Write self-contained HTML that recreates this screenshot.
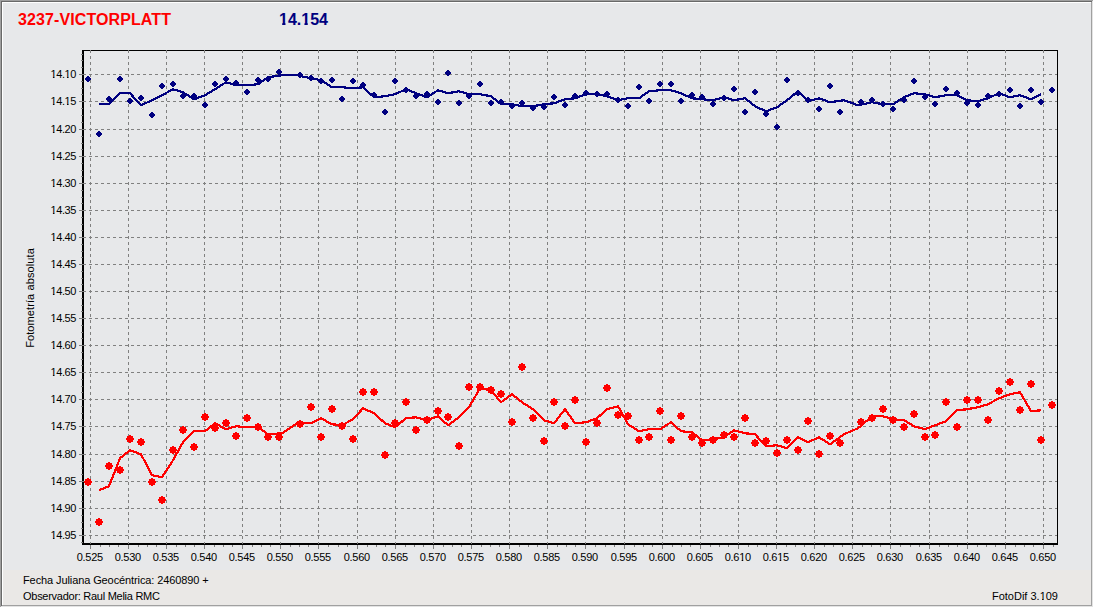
<!DOCTYPE html>
<html><head><meta charset="utf-8"><title>FotoDif</title>
<style>
html,body{margin:0;padding:0;background:#fff;}
body{width:1094px;height:608px;overflow:hidden;position:relative;font-family:"Liberation Sans",sans-serif;font-size:11px;color:#000;line-height:14px;}
svg{position:absolute;left:0;top:0;display:block;}
.t{position:absolute;white-space:nowrap;}
.xl{position:absolute;top:550px;letter-spacing:-0.25px;width:41px;text-align:center;white-space:nowrap;}
.yl{position:absolute;letter-spacing:-0.4px;left:36px;width:40px;text-align:right;white-space:nowrap;}
.o2{display:inline-block;clip-path:polygon(0 0,100% 0,100% 10px,4.1px 10px,4.1px 100%,2.4px 100%,2.4px 10px,0 10px);}
.o1{display:inline-block;clip-path:polygon(0 0,100% 0,100% 12.3px,6.5px 12.3px,6.5px 100%,3.2px 100%,3.2px 12.3px,0 12.3px);}
.h1{font-weight:bold;font-size:16px;line-height:18px;letter-spacing:0.1px;}
</style></head><body>
<svg width="1094" height="608" viewBox="0 0 1094 608" shape-rendering="crispEdges"><rect x="0" y="0" width="1094" height="608" fill="#ffffff"/><rect x="0" y="0" width="1093" height="607" fill="#a0a0a0"/><rect x="1" y="1" width="1092" height="606" fill="#e3e3e3"/><rect x="1" y="1" width="1091" height="605" fill="#696969"/><rect x="2" y="2" width="1090" height="604" fill="#a0a0a0"/><rect x="2" y="2" width="1089" height="603" fill="#ffffff"/><rect x="3" y="3" width="1088" height="567" fill="#e7e8ea"/><rect x="3" y="570" width="1088" height="35" fill="#eae8e6"/><g fill="#000"><rect x="82" y="50" width="2" height="495"/><rect x="82" y="543" width="976" height="2"/><rect x="82" y="50" width="976" height="1"/><rect x="1057" y="50" width="1" height="495"/></g><path d="M90.5,50V544M128.5,50V544M166.5,50V544M204.5,50V544M242.5,50V544M280.5,50V544M318.5,50V544M357.5,50V544M395.5,50V544M433.5,50V544M471.5,50V544M509.5,50V544M547.5,50V544M585.5,50V544M624.5,50V544M662.5,50V544M700.5,50V544M738.5,50V544M776.5,50V544M814.5,50V544M852.5,50V544M890.5,50V544M929.5,50V544M967.5,50V544M1005.5,50V544M1043.5,50V544" stroke="#808080" stroke-width="1" stroke-dasharray="3,3" fill="none"/><path d="M83,74.5H1057M83,101.5H1057M83,129.5H1057M83,156.5H1057M83,183.5H1057M83,210.5H1057M83,237.5H1057M83,264.5H1057M83,291.5H1057M83,318.5H1057M83,345.5H1057M83,372.5H1057M83,399.5H1057M83,426.5H1057M83,454.5H1057M83,481.5H1057M83,508.5H1057M83,535.5H1057" stroke="#808080" stroke-width="1" stroke-dasharray="3,3" fill="none"/><g fill="#808080"><rect x="90" y="545" width="1" height="4"/><rect x="128" y="545" width="1" height="4"/><rect x="166" y="545" width="1" height="4"/><rect x="204" y="545" width="1" height="4"/><rect x="242" y="545" width="1" height="4"/><rect x="280" y="545" width="1" height="4"/><rect x="318" y="545" width="1" height="4"/><rect x="357" y="545" width="1" height="4"/><rect x="395" y="545" width="1" height="4"/><rect x="433" y="545" width="1" height="4"/><rect x="471" y="545" width="1" height="4"/><rect x="509" y="545" width="1" height="4"/><rect x="547" y="545" width="1" height="4"/><rect x="585" y="545" width="1" height="4"/><rect x="624" y="545" width="1" height="4"/><rect x="662" y="545" width="1" height="4"/><rect x="700" y="545" width="1" height="4"/><rect x="738" y="545" width="1" height="4"/><rect x="776" y="545" width="1" height="4"/><rect x="814" y="545" width="1" height="4"/><rect x="852" y="545" width="1" height="4"/><rect x="890" y="545" width="1" height="4"/><rect x="929" y="545" width="1" height="4"/><rect x="967" y="545" width="1" height="4"/><rect x="1005" y="545" width="1" height="4"/><rect x="1043" y="545" width="1" height="4"/><rect x="100" y="545" width="1" height="2"/><rect x="109" y="545" width="1" height="2"/><rect x="118" y="545" width="1" height="2"/><rect x="138" y="545" width="1" height="2"/><rect x="147" y="545" width="1" height="2"/><rect x="156" y="545" width="1" height="2"/><rect x="176" y="545" width="1" height="2"/><rect x="185" y="545" width="1" height="2"/><rect x="194" y="545" width="1" height="2"/><rect x="214" y="545" width="1" height="2"/><rect x="223" y="545" width="1" height="2"/><rect x="232" y="545" width="1" height="2"/><rect x="252" y="545" width="1" height="2"/><rect x="261" y="545" width="1" height="2"/><rect x="270" y="545" width="1" height="2"/><rect x="290" y="545" width="1" height="2"/><rect x="299" y="545" width="1" height="2"/><rect x="308" y="545" width="1" height="2"/><rect x="328" y="545" width="1" height="2"/><rect x="338" y="545" width="1" height="2"/><rect x="347" y="545" width="1" height="2"/><rect x="367" y="545" width="1" height="2"/><rect x="376" y="545" width="1" height="2"/><rect x="385" y="545" width="1" height="2"/><rect x="405" y="545" width="1" height="2"/><rect x="414" y="545" width="1" height="2"/><rect x="423" y="545" width="1" height="2"/><rect x="443" y="545" width="1" height="2"/><rect x="452" y="545" width="1" height="2"/><rect x="461" y="545" width="1" height="2"/><rect x="481" y="545" width="1" height="2"/><rect x="490" y="545" width="1" height="2"/><rect x="499" y="545" width="1" height="2"/><rect x="519" y="545" width="1" height="2"/><rect x="528" y="545" width="1" height="2"/><rect x="537" y="545" width="1" height="2"/><rect x="557" y="545" width="1" height="2"/><rect x="566" y="545" width="1" height="2"/><rect x="575" y="545" width="1" height="2"/><rect x="595" y="545" width="1" height="2"/><rect x="605" y="545" width="1" height="2"/><rect x="614" y="545" width="1" height="2"/><rect x="634" y="545" width="1" height="2"/><rect x="643" y="545" width="1" height="2"/><rect x="652" y="545" width="1" height="2"/><rect x="672" y="545" width="1" height="2"/><rect x="681" y="545" width="1" height="2"/><rect x="690" y="545" width="1" height="2"/><rect x="710" y="545" width="1" height="2"/><rect x="719" y="545" width="1" height="2"/><rect x="728" y="545" width="1" height="2"/><rect x="748" y="545" width="1" height="2"/><rect x="757" y="545" width="1" height="2"/><rect x="766" y="545" width="1" height="2"/><rect x="786" y="545" width="1" height="2"/><rect x="795" y="545" width="1" height="2"/><rect x="804" y="545" width="1" height="2"/><rect x="824" y="545" width="1" height="2"/><rect x="833" y="545" width="1" height="2"/><rect x="842" y="545" width="1" height="2"/><rect x="862" y="545" width="1" height="2"/><rect x="871" y="545" width="1" height="2"/><rect x="880" y="545" width="1" height="2"/><rect x="900" y="545" width="1" height="2"/><rect x="910" y="545" width="1" height="2"/><rect x="919" y="545" width="1" height="2"/><rect x="939" y="545" width="1" height="2"/><rect x="948" y="545" width="1" height="2"/><rect x="957" y="545" width="1" height="2"/><rect x="977" y="545" width="1" height="2"/><rect x="986" y="545" width="1" height="2"/><rect x="995" y="545" width="1" height="2"/><rect x="1015" y="545" width="1" height="2"/><rect x="1024" y="545" width="1" height="2"/><rect x="1033" y="545" width="1" height="2"/><rect x="1053" y="545" width="1" height="2"/><rect x="79" y="74" width="4" height="1"/><rect x="79" y="101" width="4" height="1"/><rect x="79" y="129" width="4" height="1"/><rect x="79" y="156" width="4" height="1"/><rect x="79" y="183" width="4" height="1"/><rect x="79" y="210" width="4" height="1"/><rect x="79" y="237" width="4" height="1"/><rect x="79" y="264" width="4" height="1"/><rect x="79" y="291" width="4" height="1"/><rect x="79" y="318" width="4" height="1"/><rect x="79" y="345" width="4" height="1"/><rect x="79" y="372" width="4" height="1"/><rect x="79" y="399" width="4" height="1"/><rect x="79" y="426" width="4" height="1"/><rect x="79" y="454" width="4" height="1"/><rect x="79" y="481" width="4" height="1"/><rect x="79" y="508" width="4" height="1"/><rect x="79" y="535" width="4" height="1"/><rect x="81" y="81" width="2" height="1"/><rect x="81" y="88" width="2" height="1"/><rect x="81" y="94" width="2" height="1"/><rect x="81" y="108" width="2" height="1"/><rect x="81" y="115" width="2" height="1"/><rect x="81" y="122" width="2" height="1"/><rect x="81" y="136" width="2" height="1"/><rect x="81" y="143" width="2" height="1"/><rect x="81" y="149" width="2" height="1"/><rect x="81" y="163" width="2" height="1"/><rect x="81" y="170" width="2" height="1"/><rect x="81" y="176" width="2" height="1"/><rect x="81" y="190" width="2" height="1"/><rect x="81" y="197" width="2" height="1"/><rect x="81" y="203" width="2" height="1"/><rect x="81" y="217" width="2" height="1"/><rect x="81" y="224" width="2" height="1"/><rect x="81" y="230" width="2" height="1"/><rect x="81" y="244" width="2" height="1"/><rect x="81" y="251" width="2" height="1"/><rect x="81" y="257" width="2" height="1"/><rect x="81" y="271" width="2" height="1"/><rect x="81" y="278" width="2" height="1"/><rect x="81" y="284" width="2" height="1"/><rect x="81" y="298" width="2" height="1"/><rect x="81" y="305" width="2" height="1"/><rect x="81" y="311" width="2" height="1"/><rect x="81" y="325" width="2" height="1"/><rect x="81" y="332" width="2" height="1"/><rect x="81" y="338" width="2" height="1"/><rect x="81" y="352" width="2" height="1"/><rect x="81" y="359" width="2" height="1"/><rect x="81" y="365" width="2" height="1"/><rect x="81" y="379" width="2" height="1"/><rect x="81" y="386" width="2" height="1"/><rect x="81" y="392" width="2" height="1"/><rect x="81" y="406" width="2" height="1"/><rect x="81" y="413" width="2" height="1"/><rect x="81" y="419" width="2" height="1"/><rect x="81" y="433" width="2" height="1"/><rect x="81" y="440" width="2" height="1"/><rect x="81" y="447" width="2" height="1"/><rect x="81" y="461" width="2" height="1"/><rect x="81" y="468" width="2" height="1"/><rect x="81" y="474" width="2" height="1"/><rect x="81" y="488" width="2" height="1"/><rect x="81" y="495" width="2" height="1"/><rect x="81" y="501" width="2" height="1"/><rect x="81" y="515" width="2" height="1"/><rect x="81" y="522" width="2" height="1"/><rect x="81" y="528" width="2" height="1"/><rect x="81" y="67" width="2" height="1"/><rect x="81" y="60" width="2" height="1"/><rect x="81" y="54" width="2" height="1"/><rect x="81" y="542" width="2" height="1"/></g><polyline points="99,490 109,486 120,458 130,450 141,454 152,475 162,477 173,460 183,442 194,431 205,431 215,423 226,429 236,426 247,427 258,427 268,434 282,433 297,423 311,423 321,418 332,424 342,425 353,419 363,408 374,413 385,423 395,427 406,418 416,417 427,420 438,416 448,425 459,417 469,407 480,388 491,390 501,402 512,394 522,402 533,409 544,420 554,423 565,409 575,423 586,422 597,418 607,409 618,406 628,424 639,431 649,429 660,429 671,422 681,431 692,432 702,440 713,439 724,437 734,430 745,433 755,434 766,446 777,445 787,448 798,437 808,442 819,437 830,444 844,434 858,428 872,416 883,416 893,419 904,420 914,426 925,429 935,425 946,421 957,410 967,409 978,407 988,404 999,398 1010,394 1020,392 1031,411 1041,410" fill="none" stroke="#ff0000" stroke-width="2.2" stroke-linejoin="round" transform="translate(0,0.25)"/><polyline points="99,104 109,104 120,93 130,93 141,105 152,100 162,95 173,89 183,92 194,99 205,95 215,89 226,82 236,85 247,85 258,84 268,77 282,75 297,75 311,78 321,80 332,87 342,87 353,88 363,87 374,97 385,96 395,94 406,89 416,93 427,97 438,90 448,93 459,91 469,94 480,94 491,96 501,104 512,104 522,106 533,106 544,104 554,103 565,99 575,98 586,94 597,94 607,96 618,100 628,98 639,98 649,91 660,90 671,90 681,93 692,98 702,99 713,100 724,97 734,100 745,98 755,106 766,111 777,107 787,100 798,91 808,101 819,98 830,102 844,100 858,105 872,102 883,104 893,104 904,97 914,93 925,94 935,97 946,95 957,95 967,100 978,101 988,98 999,93 1010,97 1020,95 1031,99 1041,94" fill="none" stroke="#000080" stroke-width="2.2" stroke-linejoin="round" transform="translate(0,0.25)"/><path fill="#ff0000" d="M87,478h2v1h2v2h1v2h-1v2h-2v1h-2v-1h-2v-2h-1v-2h1v-2h2zM98,518h2v1h2v2h1v2h-1v2h-2v1h-2v-1h-2v-2h-1v-2h1v-2h2zM108,462h2v1h2v2h1v2h-1v2h-2v1h-2v-1h-2v-2h-1v-2h1v-2h2zM119,466h2v1h2v2h1v2h-1v2h-2v1h-2v-1h-2v-2h-1v-2h1v-2h2zM129,435h2v1h2v2h1v2h-1v2h-2v1h-2v-1h-2v-2h-1v-2h1v-2h2zM140,438h2v1h2v2h1v2h-1v2h-2v1h-2v-1h-2v-2h-1v-2h1v-2h2zM151,478h2v1h2v2h1v2h-1v2h-2v1h-2v-1h-2v-2h-1v-2h1v-2h2zM161,496h2v1h2v2h1v2h-1v2h-2v1h-2v-1h-2v-2h-1v-2h1v-2h2zM172,446h2v1h2v2h1v2h-1v2h-2v1h-2v-1h-2v-2h-1v-2h1v-2h2zM182,426h2v1h2v2h1v2h-1v2h-2v1h-2v-1h-2v-2h-1v-2h1v-2h2zM193,443h2v1h2v2h1v2h-1v2h-2v1h-2v-1h-2v-2h-1v-2h1v-2h2zM204,413h2v1h2v2h1v2h-1v2h-2v1h-2v-1h-2v-2h-1v-2h1v-2h2zM214,424h2v1h2v2h1v2h-1v2h-2v1h-2v-1h-2v-2h-1v-2h1v-2h2zM225,419h2v1h2v2h1v2h-1v2h-2v1h-2v-1h-2v-2h-1v-2h1v-2h2zM235,432h2v1h2v2h1v2h-1v2h-2v1h-2v-1h-2v-2h-1v-2h1v-2h2zM246,414h2v1h2v2h1v2h-1v2h-2v1h-2v-1h-2v-2h-1v-2h1v-2h2zM257,423h2v1h2v2h1v2h-1v2h-2v1h-2v-1h-2v-2h-1v-2h1v-2h2zM267,433h2v1h2v2h1v2h-1v2h-2v1h-2v-1h-2v-2h-1v-2h1v-2h2zM278,433h2v1h2v2h1v2h-1v2h-2v1h-2v-1h-2v-2h-1v-2h1v-2h2zM299,420h2v1h2v2h1v2h-1v2h-2v1h-2v-1h-2v-2h-1v-2h1v-2h2zM310,403h2v1h2v2h1v2h-1v2h-2v1h-2v-1h-2v-2h-1v-2h1v-2h2zM320,433h2v1h2v2h1v2h-1v2h-2v1h-2v-1h-2v-2h-1v-2h1v-2h2zM331,405h2v1h2v2h1v2h-1v2h-2v1h-2v-1h-2v-2h-1v-2h1v-2h2zM341,422h2v1h2v2h1v2h-1v2h-2v1h-2v-1h-2v-2h-1v-2h1v-2h2zM352,435h2v1h2v2h1v2h-1v2h-2v1h-2v-1h-2v-2h-1v-2h1v-2h2zM362,388h2v1h2v2h1v2h-1v2h-2v1h-2v-1h-2v-2h-1v-2h1v-2h2zM373,388h2v1h2v2h1v2h-1v2h-2v1h-2v-1h-2v-2h-1v-2h1v-2h2zM384,451h2v1h2v2h1v2h-1v2h-2v1h-2v-1h-2v-2h-1v-2h1v-2h2zM394,419h2v1h2v2h1v2h-1v2h-2v1h-2v-1h-2v-2h-1v-2h1v-2h2zM405,398h2v1h2v2h1v2h-1v2h-2v1h-2v-1h-2v-2h-1v-2h1v-2h2zM415,426h2v1h2v2h1v2h-1v2h-2v1h-2v-1h-2v-2h-1v-2h1v-2h2zM426,416h2v1h2v2h1v2h-1v2h-2v1h-2v-1h-2v-2h-1v-2h1v-2h2zM437,407h2v1h2v2h1v2h-1v2h-2v1h-2v-1h-2v-2h-1v-2h1v-2h2zM447,413h2v1h2v2h1v2h-1v2h-2v1h-2v-1h-2v-2h-1v-2h1v-2h2zM458,442h2v1h2v2h1v2h-1v2h-2v1h-2v-1h-2v-2h-1v-2h1v-2h2zM468,383h2v1h2v2h1v2h-1v2h-2v1h-2v-1h-2v-2h-1v-2h1v-2h2zM479,383h2v1h2v2h1v2h-1v2h-2v1h-2v-1h-2v-2h-1v-2h1v-2h2zM490,386h2v1h2v2h1v2h-1v2h-2v1h-2v-1h-2v-2h-1v-2h1v-2h2zM500,390h2v1h2v2h1v2h-1v2h-2v1h-2v-1h-2v-2h-1v-2h1v-2h2zM511,418h2v1h2v2h1v2h-1v2h-2v1h-2v-1h-2v-2h-1v-2h1v-2h2zM521,363h2v1h2v2h1v2h-1v2h-2v1h-2v-1h-2v-2h-1v-2h1v-2h2zM532,414h2v1h2v2h1v2h-1v2h-2v1h-2v-1h-2v-2h-1v-2h1v-2h2zM543,437h2v1h2v2h1v2h-1v2h-2v1h-2v-1h-2v-2h-1v-2h1v-2h2zM553,398h2v1h2v2h1v2h-1v2h-2v1h-2v-1h-2v-2h-1v-2h1v-2h2zM564,422h2v1h2v2h1v2h-1v2h-2v1h-2v-1h-2v-2h-1v-2h1v-2h2zM574,396h2v1h2v2h1v2h-1v2h-2v1h-2v-1h-2v-2h-1v-2h1v-2h2zM585,438h2v1h2v2h1v2h-1v2h-2v1h-2v-1h-2v-2h-1v-2h1v-2h2zM596,419h2v1h2v2h1v2h-1v2h-2v1h-2v-1h-2v-2h-1v-2h1v-2h2zM606,384h2v1h2v2h1v2h-1v2h-2v1h-2v-1h-2v-2h-1v-2h1v-2h2zM617,411h2v1h2v2h1v2h-1v2h-2v1h-2v-1h-2v-2h-1v-2h1v-2h2zM627,412h2v1h2v2h1v2h-1v2h-2v1h-2v-1h-2v-2h-1v-2h1v-2h2zM638,436h2v1h2v2h1v2h-1v2h-2v1h-2v-1h-2v-2h-1v-2h1v-2h2zM648,433h2v1h2v2h1v2h-1v2h-2v1h-2v-1h-2v-2h-1v-2h1v-2h2zM659,407h2v1h2v2h1v2h-1v2h-2v1h-2v-1h-2v-2h-1v-2h1v-2h2zM670,436h2v1h2v2h1v2h-1v2h-2v1h-2v-1h-2v-2h-1v-2h1v-2h2zM680,412h2v1h2v2h1v2h-1v2h-2v1h-2v-1h-2v-2h-1v-2h1v-2h2zM691,433h2v1h2v2h1v2h-1v2h-2v1h-2v-1h-2v-2h-1v-2h1v-2h2zM701,439h2v1h2v2h1v2h-1v2h-2v1h-2v-1h-2v-2h-1v-2h1v-2h2zM712,436h2v1h2v2h1v2h-1v2h-2v1h-2v-1h-2v-2h-1v-2h1v-2h2zM723,431h2v1h2v2h1v2h-1v2h-2v1h-2v-1h-2v-2h-1v-2h1v-2h2zM733,433h2v1h2v2h1v2h-1v2h-2v1h-2v-1h-2v-2h-1v-2h1v-2h2zM744,414h2v1h2v2h1v2h-1v2h-2v1h-2v-1h-2v-2h-1v-2h1v-2h2zM754,439h2v1h2v2h1v2h-1v2h-2v1h-2v-1h-2v-2h-1v-2h1v-2h2zM765,437h2v1h2v2h1v2h-1v2h-2v1h-2v-1h-2v-2h-1v-2h1v-2h2zM776,449h2v1h2v2h1v2h-1v2h-2v1h-2v-1h-2v-2h-1v-2h1v-2h2zM786,436h2v1h2v2h1v2h-1v2h-2v1h-2v-1h-2v-2h-1v-2h1v-2h2zM797,446h2v1h2v2h1v2h-1v2h-2v1h-2v-1h-2v-2h-1v-2h1v-2h2zM807,417h2v1h2v2h1v2h-1v2h-2v1h-2v-1h-2v-2h-1v-2h1v-2h2zM818,450h2v1h2v2h1v2h-1v2h-2v1h-2v-1h-2v-2h-1v-2h1v-2h2zM829,432h2v1h2v2h1v2h-1v2h-2v1h-2v-1h-2v-2h-1v-2h1v-2h2zM839,439h2v1h2v2h1v2h-1v2h-2v1h-2v-1h-2v-2h-1v-2h1v-2h2zM860,418h2v1h2v2h1v2h-1v2h-2v1h-2v-1h-2v-2h-1v-2h1v-2h2zM871,414h2v1h2v2h1v2h-1v2h-2v1h-2v-1h-2v-2h-1v-2h1v-2h2zM882,405h2v1h2v2h1v2h-1v2h-2v1h-2v-1h-2v-2h-1v-2h1v-2h2zM892,416h2v1h2v2h1v2h-1v2h-2v1h-2v-1h-2v-2h-1v-2h1v-2h2zM903,423h2v1h2v2h1v2h-1v2h-2v1h-2v-1h-2v-2h-1v-2h1v-2h2zM913,410h2v1h2v2h1v2h-1v2h-2v1h-2v-1h-2v-2h-1v-2h1v-2h2zM924,433h2v1h2v2h1v2h-1v2h-2v1h-2v-1h-2v-2h-1v-2h1v-2h2zM934,431h2v1h2v2h1v2h-1v2h-2v1h-2v-1h-2v-2h-1v-2h1v-2h2zM945,398h2v1h2v2h1v2h-1v2h-2v1h-2v-1h-2v-2h-1v-2h1v-2h2zM956,423h2v1h2v2h1v2h-1v2h-2v1h-2v-1h-2v-2h-1v-2h1v-2h2zM966,396h2v1h2v2h1v2h-1v2h-2v1h-2v-1h-2v-2h-1v-2h1v-2h2zM977,396h2v1h2v2h1v2h-1v2h-2v1h-2v-1h-2v-2h-1v-2h1v-2h2zM987,416h2v1h2v2h1v2h-1v2h-2v1h-2v-1h-2v-2h-1v-2h1v-2h2zM998,387h2v1h2v2h1v2h-1v2h-2v1h-2v-1h-2v-2h-1v-2h1v-2h2zM1009,378h2v1h2v2h1v2h-1v2h-2v1h-2v-1h-2v-2h-1v-2h1v-2h2zM1019,406h2v1h2v2h1v2h-1v2h-2v1h-2v-1h-2v-2h-1v-2h1v-2h2zM1030,380h2v1h2v2h1v2h-1v2h-2v1h-2v-1h-2v-2h-1v-2h1v-2h2zM1040,436h2v1h2v2h1v2h-1v2h-2v1h-2v-1h-2v-2h-1v-2h1v-2h2zM1051,401h2v1h2v2h1v2h-1v2h-2v1h-2v-1h-2v-2h-1v-2h1v-2h2z"/><path fill="#000080" d="M87,76h2v1h1v1h1v2h-1v1h-1v1h-2v-1h-1v-1h-1v-2h1v-1h1zM98,131h2v1h1v1h1v2h-1v1h-1v1h-2v-1h-1v-1h-1v-2h1v-1h1zM108,96h2v1h1v1h1v2h-1v1h-1v1h-2v-1h-1v-1h-1v-2h1v-1h1zM119,76h2v1h1v1h1v2h-1v1h-1v1h-2v-1h-1v-1h-1v-2h1v-1h1zM129,98h2v1h1v1h1v2h-1v1h-1v1h-2v-1h-1v-1h-1v-2h1v-1h1zM140,95h2v1h1v1h1v2h-1v1h-1v1h-2v-1h-1v-1h-1v-2h1v-1h1zM151,112h2v1h1v1h1v2h-1v1h-1v1h-2v-1h-1v-1h-1v-2h1v-1h1zM161,83h2v1h1v1h1v2h-1v1h-1v1h-2v-1h-1v-1h-1v-2h1v-1h1zM172,81h2v1h1v1h1v2h-1v1h-1v1h-2v-1h-1v-1h-1v-2h1v-1h1zM182,93h2v1h1v1h1v2h-1v1h-1v1h-2v-1h-1v-1h-1v-2h1v-1h1zM193,93h2v1h1v1h1v2h-1v1h-1v1h-2v-1h-1v-1h-1v-2h1v-1h1zM204,102h2v1h1v1h1v2h-1v1h-1v1h-2v-1h-1v-1h-1v-2h1v-1h1zM214,81h2v1h1v1h1v2h-1v1h-1v1h-2v-1h-1v-1h-1v-2h1v-1h1zM225,76h2v1h1v1h1v2h-1v1h-1v1h-2v-1h-1v-1h-1v-2h1v-1h1zM235,80h2v1h1v1h1v2h-1v1h-1v1h-2v-1h-1v-1h-1v-2h1v-1h1zM246,89h2v1h1v1h1v2h-1v1h-1v1h-2v-1h-1v-1h-1v-2h1v-1h1zM257,77h2v1h1v1h1v2h-1v1h-1v1h-2v-1h-1v-1h-1v-2h1v-1h1zM267,76h2v1h1v1h1v2h-1v1h-1v1h-2v-1h-1v-1h-1v-2h1v-1h1zM278,69h2v1h1v1h1v2h-1v1h-1v1h-2v-1h-1v-1h-1v-2h1v-1h1zM299,72h2v1h1v1h1v2h-1v1h-1v1h-2v-1h-1v-1h-1v-2h1v-1h1zM310,75h2v1h1v1h1v2h-1v1h-1v1h-2v-1h-1v-1h-1v-2h1v-1h1zM320,78h2v1h1v1h1v2h-1v1h-1v1h-2v-1h-1v-1h-1v-2h1v-1h1zM331,77h2v1h1v1h1v2h-1v1h-1v1h-2v-1h-1v-1h-1v-2h1v-1h1zM341,96h2v1h1v1h1v2h-1v1h-1v1h-2v-1h-1v-1h-1v-2h1v-1h1zM352,78h2v1h1v1h1v2h-1v1h-1v1h-2v-1h-1v-1h-1v-2h1v-1h1zM362,82h2v1h1v1h1v2h-1v1h-1v1h-2v-1h-1v-1h-1v-2h1v-1h1zM373,92h2v1h1v1h1v2h-1v1h-1v1h-2v-1h-1v-1h-1v-2h1v-1h1zM384,109h2v1h1v1h1v2h-1v1h-1v1h-2v-1h-1v-1h-1v-2h1v-1h1zM394,78h2v1h1v1h1v2h-1v1h-1v1h-2v-1h-1v-1h-1v-2h1v-1h1zM405,87h2v1h1v1h1v2h-1v1h-1v1h-2v-1h-1v-1h-1v-2h1v-1h1zM415,93h2v1h1v1h1v2h-1v1h-1v1h-2v-1h-1v-1h-1v-2h1v-1h1zM426,91h2v1h1v1h1v2h-1v1h-1v1h-2v-1h-1v-1h-1v-2h1v-1h1zM437,99h2v1h1v1h1v2h-1v1h-1v1h-2v-1h-1v-1h-1v-2h1v-1h1zM447,70h2v1h1v1h1v2h-1v1h-1v1h-2v-1h-1v-1h-1v-2h1v-1h1zM458,100h2v1h1v1h1v2h-1v1h-1v1h-2v-1h-1v-1h-1v-2h1v-1h1zM468,93h2v1h1v1h1v2h-1v1h-1v1h-2v-1h-1v-1h-1v-2h1v-1h1zM479,81h2v1h1v1h1v2h-1v1h-1v1h-2v-1h-1v-1h-1v-2h1v-1h1zM490,100h2v1h1v1h1v2h-1v1h-1v1h-2v-1h-1v-1h-1v-2h1v-1h1zM500,99h2v1h1v1h1v2h-1v1h-1v1h-2v-1h-1v-1h-1v-2h1v-1h1zM511,103h2v1h1v1h1v2h-1v1h-1v1h-2v-1h-1v-1h-1v-2h1v-1h1zM521,100h2v1h1v1h1v2h-1v1h-1v1h-2v-1h-1v-1h-1v-2h1v-1h1zM532,105h2v1h1v1h1v2h-1v1h-1v1h-2v-1h-1v-1h-1v-2h1v-1h1zM543,104h2v1h1v1h1v2h-1v1h-1v1h-2v-1h-1v-1h-1v-2h1v-1h1zM553,94h2v1h1v1h1v2h-1v1h-1v1h-2v-1h-1v-1h-1v-2h1v-1h1zM564,102h2v1h1v1h1v2h-1v1h-1v1h-2v-1h-1v-1h-1v-2h1v-1h1zM574,93h2v1h1v1h1v2h-1v1h-1v1h-2v-1h-1v-1h-1v-2h1v-1h1zM585,90h2v1h1v1h1v2h-1v1h-1v1h-2v-1h-1v-1h-1v-2h1v-1h1zM596,91h2v1h1v1h1v2h-1v1h-1v1h-2v-1h-1v-1h-1v-2h1v-1h1zM606,91h2v1h1v1h1v2h-1v1h-1v1h-2v-1h-1v-1h-1v-2h1v-1h1zM617,97h2v1h1v1h1v2h-1v1h-1v1h-2v-1h-1v-1h-1v-2h1v-1h1zM627,103h2v1h1v1h1v2h-1v1h-1v1h-2v-1h-1v-1h-1v-2h1v-1h1zM638,84h2v1h1v1h1v2h-1v1h-1v1h-2v-1h-1v-1h-1v-2h1v-1h1zM648,98h2v1h1v1h1v2h-1v1h-1v1h-2v-1h-1v-1h-1v-2h1v-1h1zM659,81h2v1h1v1h1v2h-1v1h-1v1h-2v-1h-1v-1h-1v-2h1v-1h1zM670,81h2v1h1v1h1v2h-1v1h-1v1h-2v-1h-1v-1h-1v-2h1v-1h1zM680,98h2v1h1v1h1v2h-1v1h-1v1h-2v-1h-1v-1h-1v-2h1v-1h1zM691,92h2v1h1v1h1v2h-1v1h-1v1h-2v-1h-1v-1h-1v-2h1v-1h1zM701,94h2v1h1v1h1v2h-1v1h-1v1h-2v-1h-1v-1h-1v-2h1v-1h1zM712,101h2v1h1v1h1v2h-1v1h-1v1h-2v-1h-1v-1h-1v-2h1v-1h1zM723,95h2v1h1v1h1v2h-1v1h-1v1h-2v-1h-1v-1h-1v-2h1v-1h1zM733,86h2v1h1v1h1v2h-1v1h-1v1h-2v-1h-1v-1h-1v-2h1v-1h1zM744,109h2v1h1v1h1v2h-1v1h-1v1h-2v-1h-1v-1h-1v-2h1v-1h1zM754,89h2v1h1v1h1v2h-1v1h-1v1h-2v-1h-1v-1h-1v-2h1v-1h1zM765,111h2v1h1v1h1v2h-1v1h-1v1h-2v-1h-1v-1h-1v-2h1v-1h1zM776,124h2v1h1v1h1v2h-1v1h-1v1h-2v-1h-1v-1h-1v-2h1v-1h1zM786,77h2v1h1v1h1v2h-1v1h-1v1h-2v-1h-1v-1h-1v-2h1v-1h1zM797,90h2v1h1v1h1v2h-1v1h-1v1h-2v-1h-1v-1h-1v-2h1v-1h1zM807,97h2v1h1v1h1v2h-1v1h-1v1h-2v-1h-1v-1h-1v-2h1v-1h1zM818,106h2v1h1v1h1v2h-1v1h-1v1h-2v-1h-1v-1h-1v-2h1v-1h1zM829,83h2v1h1v1h1v2h-1v1h-1v1h-2v-1h-1v-1h-1v-2h1v-1h1zM839,109h2v1h1v1h1v2h-1v1h-1v1h-2v-1h-1v-1h-1v-2h1v-1h1zM860,99h2v1h1v1h1v2h-1v1h-1v1h-2v-1h-1v-1h-1v-2h1v-1h1zM871,97h2v1h1v1h1v2h-1v1h-1v1h-2v-1h-1v-1h-1v-2h1v-1h1zM882,101h2v1h1v1h1v2h-1v1h-1v1h-2v-1h-1v-1h-1v-2h1v-1h1zM892,106h2v1h1v1h1v2h-1v1h-1v1h-2v-1h-1v-1h-1v-2h1v-1h1zM903,97h2v1h1v1h1v2h-1v1h-1v1h-2v-1h-1v-1h-1v-2h1v-1h1zM913,78h2v1h1v1h1v2h-1v1h-1v1h-2v-1h-1v-1h-1v-2h1v-1h1zM924,94h2v1h1v1h1v2h-1v1h-1v1h-2v-1h-1v-1h-1v-2h1v-1h1zM934,101h2v1h1v1h1v2h-1v1h-1v1h-2v-1h-1v-1h-1v-2h1v-1h1zM945,86h2v1h1v1h1v2h-1v1h-1v1h-2v-1h-1v-1h-1v-2h1v-1h1zM956,90h2v1h1v1h1v2h-1v1h-1v1h-2v-1h-1v-1h-1v-2h1v-1h1zM966,100h2v1h1v1h1v2h-1v1h-1v1h-2v-1h-1v-1h-1v-2h1v-1h1zM977,102h2v1h1v1h1v2h-1v1h-1v1h-2v-1h-1v-1h-1v-2h1v-1h1zM987,93h2v1h1v1h1v2h-1v1h-1v1h-2v-1h-1v-1h-1v-2h1v-1h1zM998,91h2v1h1v1h1v2h-1v1h-1v1h-2v-1h-1v-1h-1v-2h1v-1h1zM1009,87h2v1h1v1h1v2h-1v1h-1v1h-2v-1h-1v-1h-1v-2h1v-1h1zM1019,103h2v1h1v1h1v2h-1v1h-1v1h-2v-1h-1v-1h-1v-2h1v-1h1zM1030,87h2v1h1v1h1v2h-1v1h-1v1h-2v-1h-1v-1h-1v-2h1v-1h1zM1040,99h2v1h1v1h1v2h-1v1h-1v1h-2v-1h-1v-1h-1v-2h1v-1h1zM1051,87h2v1h1v1h1v2h-1v1h-1v1h-2v-1h-1v-1h-1v-2h1v-1h1z"/></svg>
<div class="t h1" style="left:18px;top:10.6px;color:#ff0000">3237-VICTORPLATT</div>
<div class="t h1" style="left:279px;top:10.6px;letter-spacing:0;color:#000080"><span class="o1">1</span>4.<span class="o1">1</span>54</div>
<div class="xl" style="left:69.3px">0.525</div><div class="xl" style="left:107.3px">0.530</div><div class="xl" style="left:145.3px">0.535</div><div class="xl" style="left:183.3px">0.540</div><div class="xl" style="left:221.3px">0.545</div><div class="xl" style="left:259.3px">0.550</div><div class="xl" style="left:297.3px">0.555</div><div class="xl" style="left:336.3px">0.560</div><div class="xl" style="left:374.3px">0.565</div><div class="xl" style="left:412.3px">0.570</div><div class="xl" style="left:450.3px">0.575</div><div class="xl" style="left:488.3px">0.580</div><div class="xl" style="left:526.3px">0.585</div><div class="xl" style="left:564.3px">0.590</div><div class="xl" style="left:603.3px">0.595</div><div class="xl" style="left:641.3px">0.600</div><div class="xl" style="left:679.3px">0.605</div><div class="xl" style="left:717.3px">0.6<span class="o2">1</span>0</div><div class="xl" style="left:755.3px">0.6<span class="o2">1</span>5</div><div class="xl" style="left:793.3px">0.620</div><div class="xl" style="left:831.3px">0.625</div><div class="xl" style="left:869.3px">0.630</div><div class="xl" style="left:908.3px">0.635</div><div class="xl" style="left:946.3px">0.640</div><div class="xl" style="left:984.3px">0.645</div><div class="xl" style="left:1022.3px">0.650</div><div class="yl" style="top:67px"><span class="o2">1</span>4.<span class="o2">1</span>0</div><div class="yl" style="top:94px"><span class="o2">1</span>4.<span class="o2">1</span>5</div><div class="yl" style="top:122px"><span class="o2">1</span>4.20</div><div class="yl" style="top:149px"><span class="o2">1</span>4.25</div><div class="yl" style="top:176px"><span class="o2">1</span>4.30</div><div class="yl" style="top:203px"><span class="o2">1</span>4.35</div><div class="yl" style="top:230px"><span class="o2">1</span>4.40</div><div class="yl" style="top:257px"><span class="o2">1</span>4.45</div><div class="yl" style="top:284px"><span class="o2">1</span>4.50</div><div class="yl" style="top:311px"><span class="o2">1</span>4.55</div><div class="yl" style="top:338px"><span class="o2">1</span>4.60</div><div class="yl" style="top:365px"><span class="o2">1</span>4.65</div><div class="yl" style="top:392px"><span class="o2">1</span>4.70</div><div class="yl" style="top:419px"><span class="o2">1</span>4.75</div><div class="yl" style="top:447px"><span class="o2">1</span>4.80</div><div class="yl" style="top:474px"><span class="o2">1</span>4.85</div><div class="yl" style="top:501px"><span class="o2">1</span>4.90</div><div class="yl" style="top:528px"><span class="o2">1</span>4.95</div>
<div class="t" id="ylab" style="left:30px;top:298px;transform:translate(-50%,-50%) rotate(-90deg);letter-spacing:0.1px;">Fotometría absoluta</div>
<div class="t" style="left:23px;top:573px;letter-spacing:-0.1px;">Fecha Juliana Geocéntrica: 2460890 +</div>
<div class="t" style="left:23px;top:589px;letter-spacing:-0.27px;">Observador: Raul Melia RMC</div>
<div class="t" style="right:36px;top:589px;">FotoDif 3.<span class="o2">1</span>09</div>
</body></html>
